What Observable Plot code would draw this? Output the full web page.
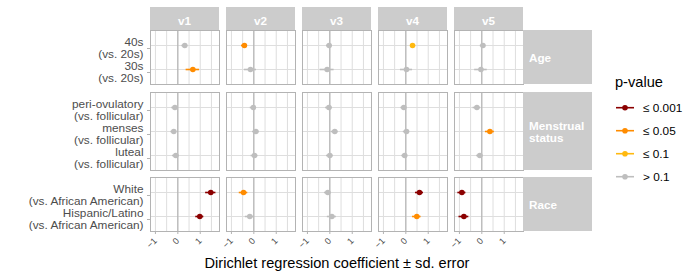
<!DOCTYPE html>
<html><head><meta charset="utf-8">
<script src="https://cdn.jsdelivr.net/npm/d3@7"></script>
<script src="https://cdn.jsdelivr.net/npm/@observablehq/plot@0.6"></script>
<style>
body{margin:0;background:#fff;font-family:"Liberation Sans",Arial,sans-serif;}
#chart{position:relative;width:700px;height:280px;overflow:hidden}
#chart > svg{display:block}
#legend{position:absolute;left:0;top:0}
</style></head><body><div id="chart"></div>
<script>
// ---------- data ----------
const columns = ["v1", "v2", "v3", "v4", "v5"];
const P001 = "≤ 0.001", P05 = "≤ 0.05", P10 = "≤ 0.1", NS = "> 0.1";
const pLevels = [P001, P05, P10, NS];
const pColors = ["#8B0000", "#FF8C00", "#FFB90F", "#BEBEBE"];
const xTicks = [-1, 0, 1];
const xGrid = [-1, -0.5, 0, 0.5, 1, 1.5];
const zeroLine = [0];
const xTitle = "Dirichlet regression coefficient ± sd. error";
const legendTitle = "p-value";

const ageLabel = "Age";
const ageTerms = ["40s\n(vs. 20s)", "30s\n(vs. 20s)"];
const ageEstimate = [[0.31, 0.67], [-0.42, -0.15], [-0.03, -0.12], [0.30, 0.03], [0.05, -0.04]];
const ageError    = [[0.13, 0.30], [0.13, 0.27], [0.12, 0.31], [0.08, 0.27], [0.12, 0.28]];
const ageP        = [[NS, P05], [P05, NS], [NS, NS], [P10, NS], [NS, NS]];

const mensLabel = "Menstrual\nstatus";
const mensTerms = ["peri-ovulatory\n(vs. follicular)", "menses\n(vs. follicular)", "luteal\n(vs. follicular)"];
const mensEstimate = [[-0.13, -0.18, -0.09], [-0.02, 0.09, 0.03], [-0.04, 0.22, 0.00], [-0.09, 0.03, -0.05], [-0.22, 0.36, -0.09]];
const mensError    = [[0.14, 0.13, 0.15], [0.14, 0.15, 0.15], [0.15, 0.15, 0.15], [0.13, 0.14, 0.13], [0.17, 0.20, 0.14]];
const mensP        = [[NS, NS, NS], [NS, NS, NS], [NS, NS, NS], [NS, NS, NS], [NS, P05, NS]];

const raceLabel = "Race";
const raceTerms = ["White\n(vs. African American)", "Hispanic/Latino\n(vs. African American)"];
const raceEstimate = [[1.47, 0.98], [-0.46, -0.18], [-0.09, 0.09], [0.61, 0.49], [-0.89, -0.80]];
const raceError    = [[0.23, 0.18], [0.19, 0.20], [0.15, 0.20], [0.18, 0.19], [0.18, 0.22]];
const raceP        = [[P001, P001], [P05, NS], [NS, NS], [P001, P05], [P001, P001]];

// ---------- helpers ----------
const FONT = '"Liberation Sans", Arial, sans-serif';
const STRIP = "#CCCCCC", BORDER = "#B3B3B3", GRID = "#DEDEDE", TEXT = "#4D4D4D";

function buildRows(terms, est, err, p) {
  return columns.flatMap((c, i) => terms.map((t, j) => ({column: c, term: t, est: est[i][j], se: err[i][j], p: p[i][j]})));
}

function rowPlot(terms, data, o) {
  const marks = [
    Plot.gridX(xGrid, {stroke: GRID, strokeOpacity: 1}),
    Plot.gridY({stroke: GRID, strokeOpacity: 1}),
    Plot.ruleX(zeroLine, {stroke: "#ABABAB"}),
    Plot.axisY({tickSize: 3, tickPadding: 4, stroke: BORDER, strokeOpacity: 1, fill: TEXT, fontSize: 11.8, lineHeight: 1.0, dy: 3, label: null}),
    Plot.ruleY(data, {fx: "column", y: "term", x1: d => d.est - d.se, x2: d => d.est + d.se, stroke: "p", strokeWidth: 1.6}),
    Plot.dot(data, {fx: "column", y: "term", x: "est", fill: "p", r: 2.8}),
    Plot.frame({stroke: BORDER, strokeOpacity: 1})
  ];
  if (o.xAxis) {
    marks.push(Plot.axisX(xTicks, {tickSize: 3, tickPadding: 5, tickRotate: -45, stroke: BORDER, strokeOpacity: 1, fill: TEXT, fontSize: 9, label: null}));
    marks.push(Plot.axisX([], {tickSize: 0, fill: "#000", fontSize: 14.6, label: xTitle, labelAnchor: "center", labelArrow: "none", labelOffset: 36}));
  }
  return Plot.plot({
    width: 700, height: o.height,
    marginLeft: 150, marginRight: 177, marginTop: o.top, marginBottom: o.bottom,
    style: {fontFamily: FONT, fontSize: "12px", background: "transparent", overflow: "visible"},
    fx: {domain: columns, paddingInner: 0.092, paddingOuter: 0, round: false, axis: null, label: null},
    x: {domain: [-1.22, 1.86], axis: null},
    y: {type: "point", domain: terms, padding: 0.6, axis: null},
    color: {domain: pLevels, range: pColors},
    marks
  });
}

function decorate(plot, rowLabel, withTop) {
  const fx = plot.scale("fx");
  const yr = plot.scale("y").range;
  const y0 = Math.min(...yr), y1 = Math.max(...yr);
  const bw = fx.bandwidth;
  const svg = d3.select(plot);
  const g = svg.append("g").attr("font-family", FONT);
  if (withTop) {
    const sh = 23;
    for (const c of columns) {
      const x = fx.apply(c);
      g.append("rect").attr("x", x).attr("y", y0 - sh).attr("width", bw).attr("height", sh).attr("fill", STRIP);
      g.append("text").attr("x", x + bw / 2).attr("y", y0 - 5).attr("text-anchor", "middle")
        .attr("fill", "#fff").attr("font-weight", "bold").attr("font-size", 11.7).text(c);
    }
  }
  const last = columns[columns.length - 1];
  const sx = fx.apply(last) + bw;
  g.append("rect").attr("x", sx).attr("y", y0).attr("width", bw).attr("height", y1 - y0).attr("fill", STRIP);
  const lines = rowLabel.split("\n");
  const cy = (y0 + y1) / 2;
  const lh = 12.3;
  lines.forEach((l, i) => {
    g.append("text").attr("x", sx + 6).attr("y", cy + 5.2 + (i - (lines.length - 1) / 2) * lh)
      .attr("text-anchor", "start")
      .attr("fill", "#fff").attr("font-weight", "bold").attr("font-size", 11.7).text(l);
  });
}

const chart = document.getElementById("chart");
const p1 = rowPlot(ageTerms, buildRows(ageTerms, ageEstimate, ageError, ageP), {height: 88, top: 30, bottom: 4});
const p2 = rowPlot(mensTerms, buildRows(mensTerms, mensEstimate, mensError, mensP), {height: 88, top: 4, bottom: 6});
const p3 = rowPlot(raceTerms, buildRows(raceTerms, raceEstimate, raceError, raceP), {height: 104, top: 1, bottom: 49, xAxis: true});
chart.append(p1, p2, p3);
decorate(p1, ageLabel, true);
decorate(p2, mensLabel, false);
decorate(p3, raceLabel, false);

// ---------- legend ----------
const color = p1.scale("color");
const lg = d3.select(chart).append("svg").attr("id", "legend").attr("width", 700).attr("height", 280)
  .style("pointer-events", "none").attr("font-family", FONT);
lg.append("text").attr("x", 615).attr("y", 87).attr("font-size", 14.6).attr("fill", "#000").text(legendTitle);
pLevels.forEach((lv, i) => {
  const y = 107.7 + i * 23;
  const c = color.apply(lv);
  lg.append("line").attr("x1", 616).attr("x2", 634).attr("y1", y).attr("y2", y).attr("stroke", c).attr("stroke-width", 1.6);
  lg.append("circle").attr("cx", 625).attr("cy", y).attr("r", 2.8).attr("fill", c);
  lg.append("text").attr("x", 643).attr("y", y).attr("dy", "0.35em").attr("font-size", 11.8).attr("fill", "#000").text(lv);
});
</script></body></html>
